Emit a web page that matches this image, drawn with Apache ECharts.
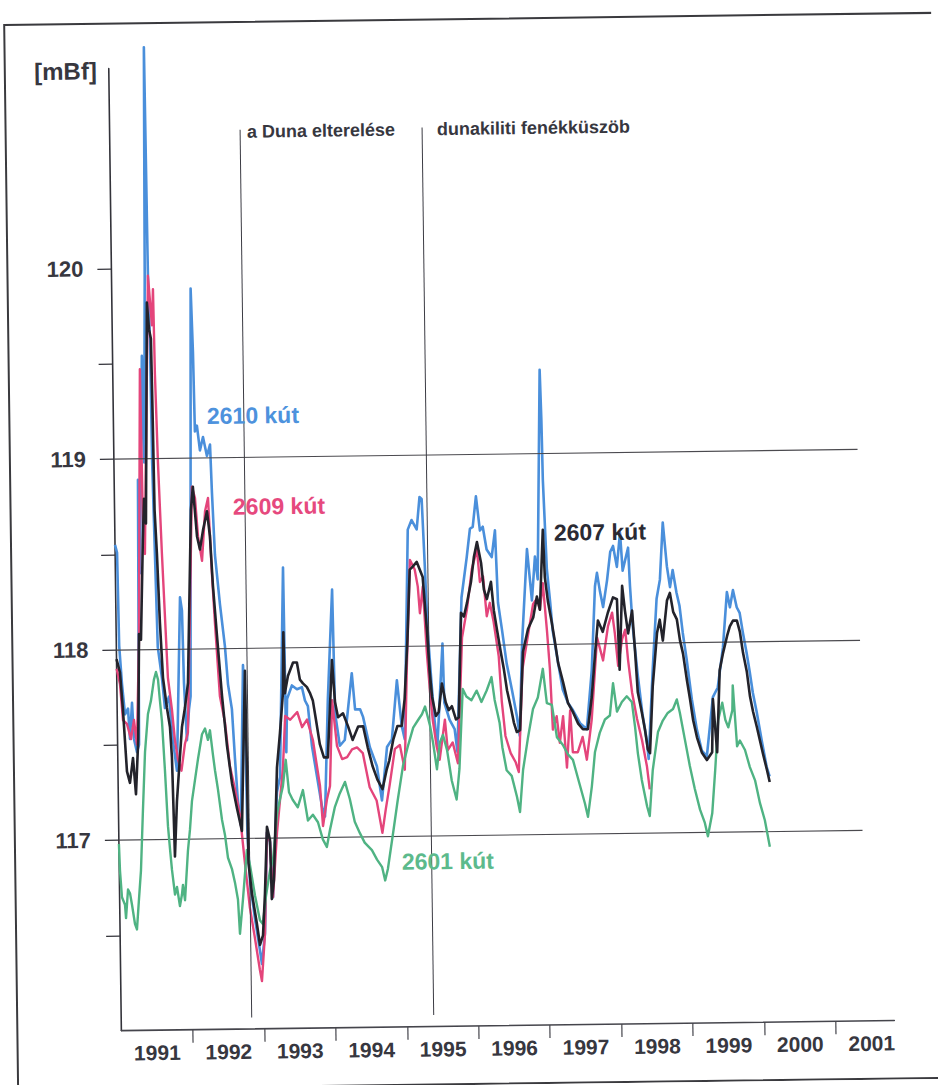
<!DOCTYPE html>
<html>
<head>
<meta charset="utf-8">
<title>Talajvízszintek 1991–2000</title>
<script src="https://cdn.jsdelivr.net/npm/echarts@6/dist/echarts.min.js"></script>
<style>
  html, body { margin: 0; padding: 0; background: #fff; overflow: hidden; }
  #chart {
    width: 938px; height: 1085px; background: #fff;
    transform: rotate(-0.75deg); transform-origin: 469px 542px;
  }
</style>
</head>
<body>
<div id="chart"></div>
<script>
// Axis tick labels
const yearLabels = ['1991', '1992', '1993', '1994', '1995', '1996', '1997', '1998', '1999', '2000', '2001'];
const valueLabels = ['117', '118', '119', '120'];
const gridLevels = [117, 118, 119];

// Event markers (decimal year)
const eventYears = [1992.83, 1995.376];
const eventTexts = ['a Duna elterelése', 'dunakiliti fenékküszöb'];

// Well water levels [decimal year, mBf]
const well2610 = [[1991.0,118.55],[1991.027,118.51],[1991.04,118.02],[1991.072,117.82],[1991.109,117.66],[1991.152,117.69],[1991.174,117.53],[1991.209,117.72],[1991.23,117.53],[1991.27,117.46],[1991.3,117.5],[1991.333,118.89],[1991.344,118.4],[1991.41,119.54],[1991.425,118.98],[1991.465,119.96],[1991.495,121.16],[1991.51,119.96],[1991.526,119.63],[1991.535,118.98],[1991.557,118.5],[1991.58,118.01],[1991.632,117.85],[1991.669,117.69],[1991.728,117.75],[1991.775,117.52],[1991.826,117.36],[1991.9,118.27],[1991.925,118.2],[1991.94,117.82],[1991.971,117.52],[1992.005,117.68],[1992.03,117.75],[1992.105,119.89],[1992.126,119.56],[1992.139,119.14],[1992.168,119.17],[1992.206,119.04],[1992.251,119.11],[1992.303,119.01],[1992.348,119.07],[1992.366,118.82],[1992.397,118.49],[1992.458,118.23],[1992.52,118.01],[1992.556,117.81],[1992.606,117.68],[1992.64,117.42],[1992.674,117.19],[1992.71,117.07],[1992.769,117.91],[1992.788,117.68],[1992.8,117.04],[1992.828,116.77],[1992.89,116.58],[1992.955,116.41],[1992.98,116.34],[1993.028,116.5],[1993.074,117.03],[1993.115,116.98],[1993.147,116.69],[1993.221,117.24],[1993.267,117.32],[1993.347,118.42],[1993.36,117.45],[1993.38,117.73],[1993.45,117.8],[1993.52,117.78],[1993.59,117.79],[1993.63,117.72],[1993.67,117.69],[1993.72,117.48],[1993.785,117.32],[1993.85,117.16],[1993.89,117.11],[1993.95,117.72],[1994.03,118.3],[1994.05,117.65],[1994.11,117.48],[1994.18,117.51],[1994.29,117.86],[1994.33,117.67],[1994.4,117.67],[1994.44,117.63],[1994.53,117.47],[1994.625,117.37],[1994.69,117.19],[1994.77,117.47],[1994.84,117.51],[1994.92,117.82],[1994.98,117.58],[1995.02,117.51],[1995.1,118.61],[1995.155,118.66],[1995.225,118.61],[1995.27,118.78],[1995.3,118.77],[1995.33,118.44],[1995.36,118.08],[1995.405,117.8],[1995.44,117.61],[1995.475,117.47],[1995.565,118.01],[1995.58,117.7],[1995.65,117.61],[1995.72,117.56],[1995.755,117.44],[1995.84,118.25],[1995.92,118.46],[1995.97,118.61],[1996.01,118.62],[1996.06,118.78],[1996.11,118.6],[1996.15,118.62],[1996.2,118.5],[1996.27,118.46],[1996.32,118.6],[1996.35,118.22],[1996.4,118.08],[1996.46,117.9],[1996.53,117.76],[1996.595,117.62],[1996.63,117.52],[1996.68,118.01],[1996.765,118.5],[1996.825,118.23],[1996.875,118.46],[1996.91,118.34],[1996.975,119.44],[1996.99,119.18],[1997.0,118.86],[1997.04,118.39],[1997.08,118.22],[1997.11,118.07],[1997.18,117.9],[1997.24,117.76],[1997.31,117.69],[1997.38,117.65],[1997.48,117.58],[1997.57,117.55],[1997.65,117.86],[1997.71,118.3],[1997.74,118.37],[1997.78,118.27],[1997.82,118.19],[1997.88,118.33],[1997.93,118.48],[1997.97,118.51],[1998.02,118.4],[1998.07,118.58],[1998.1,118.38],[1998.18,118.5],[1998.2,118.3],[1998.23,118.09],[1998.29,117.84],[1998.35,117.63],[1998.41,117.48],[1998.43,117.39],[1998.505,117.87],[1998.57,118.23],[1998.62,118.33],[1998.67,118.63],[1998.72,118.4],[1998.76,118.29],[1998.8,118.38],[1998.85,118.26],[1998.89,118.19],[1998.93,118.05],[1998.98,117.91],[1999.045,117.7],[1999.11,117.54],[1999.175,117.43],[1999.245,117.4],[1999.34,117.71],[1999.41,117.76],[1999.49,117.97],[1999.555,118.26],[1999.595,118.18],[1999.64,118.27],[1999.69,118.18],[1999.73,118.15],[1999.77,118.05],[1999.82,117.94],[1999.86,117.84],[1999.9,117.73],[1999.95,117.63],[2000.015,117.48],[2000.08,117.34],[2000.12,117.29]];

const well2609 = [[1991.0,117.9],[1991.044,117.82],[1991.08,117.63],[1991.134,117.61],[1991.188,117.53],[1991.233,117.63],[1991.271,117.5],[1991.318,118.05],[1991.38,119.47],[1991.395,118.66],[1991.417,118.5],[1991.51,119.96],[1991.557,119.7],[1991.578,119.89],[1991.59,119.44],[1991.616,118.98],[1991.655,118.5],[1991.686,118.17],[1991.716,117.85],[1991.767,117.68],[1991.803,117.52],[1991.842,117.42],[1991.889,117.36],[1991.942,117.5],[1991.986,117.56],[1992.087,118.85],[1992.128,118.79],[1992.163,118.59],[1992.215,118.46],[1992.266,118.72],[1992.31,118.79],[1992.35,118.4],[1992.385,118.13],[1992.44,117.75],[1992.507,117.61],[1992.568,117.38],[1992.634,117.26],[1992.7,117.12],[1992.76,116.87],[1992.82,116.64],[1992.885,116.48],[1992.95,116.31],[1992.977,116.25],[1993.028,116.5],[1993.074,117.03],[1993.115,116.98],[1993.147,116.69],[1993.215,117.03],[1993.263,117.2],[1993.31,117.37],[1993.35,117.64],[1993.42,117.62],[1993.52,117.66],[1993.585,117.58],[1993.655,117.62],[1993.735,117.51],[1993.825,117.27],[1993.86,117.06],[1993.92,117.2],[1993.965,117.27],[1994.01,117.72],[1994.07,117.48],[1994.14,117.41],[1994.21,117.42],[1994.28,117.46],[1994.35,117.47],[1994.43,117.44],[1994.52,117.26],[1994.615,117.19],[1994.69,117.02],[1994.74,117.14],[1994.8,117.27],[1994.88,117.46],[1994.95,117.48],[1995.015,117.35],[1995.06,117.87],[1995.125,118.45],[1995.19,118.4],[1995.23,118.31],[1995.255,118.17],[1995.3,118.31],[1995.345,117.96],[1995.38,117.77],[1995.415,117.61],[1995.465,117.47],[1995.505,117.4],[1995.585,117.61],[1995.62,117.45],[1995.69,117.49],[1995.76,117.38],[1995.84,118.04],[1995.915,118.19],[1995.99,118.4],[1996.065,118.5],[1996.1,118.33],[1996.145,118.36],[1996.19,118.15],[1996.235,118.22],[1996.285,118.12],[1996.35,117.94],[1996.385,117.7],[1996.43,117.52],[1996.5,117.43],[1996.57,117.38],[1996.61,117.33],[1996.68,117.87],[1996.76,118.04],[1996.84,118.21],[1996.895,118.24],[1996.935,118.18],[1996.98,118.32],[1997.03,118.07],[1997.064,117.87],[1997.095,117.55],[1997.15,117.62],[1997.19,117.48],[1997.24,117.62],[1997.285,117.35],[1997.34,117.65],[1997.37,117.43],[1997.44,117.43],[1997.51,117.51],[1997.565,117.39],[1997.64,117.6],[1997.73,118.03],[1997.81,117.91],[1997.885,118.09],[1997.945,118.16],[1997.98,118.05],[1998.02,117.88],[1998.08,118.02],[1998.125,118.07],[1998.16,117.91],[1998.21,117.74],[1998.275,117.6],[1998.34,117.49],[1998.405,117.35],[1998.44,117.23]];

const well2607 = [[1991.0,117.95],[1991.046,117.88],[1991.08,117.69],[1991.126,117.36],[1991.166,117.3],[1991.213,117.43],[1991.248,117.24],[1991.29,117.53],[1991.32,118.08],[1991.346,118.05],[1991.39,118.57],[1991.414,118.79],[1991.437,118.66],[1991.49,119.82],[1991.515,119.68],[1991.54,119.63],[1991.55,119.24],[1991.56,118.73],[1991.585,118.5],[1991.614,118.14],[1991.647,117.85],[1991.697,117.69],[1991.736,117.59],[1991.758,117.43],[1991.782,116.91],[1991.82,117.2],[1991.854,117.36],[1991.904,117.59],[1991.949,117.69],[1991.996,117.82],[1992.069,118.73],[1992.1,118.85],[1992.149,118.59],[1992.188,118.52],[1992.234,118.62],[1992.293,118.72],[1992.33,118.59],[1992.363,118.33],[1992.41,118.07],[1992.47,117.75],[1992.53,117.49],[1992.594,117.29],[1992.658,117.16],[1992.724,117.04],[1992.795,117.88],[1992.805,117.36],[1992.81,116.87],[1992.853,116.71],[1992.917,116.55],[1992.956,116.44],[1993.0,116.49],[1993.035,116.71],[1993.075,117.06],[1993.115,116.99],[1993.13,116.68],[1993.163,116.78],[1993.226,117.37],[1993.274,117.55],[1993.323,117.76],[1993.34,118.08],[1993.35,117.76],[1993.396,117.85],[1993.47,117.92],[1993.524,117.92],[1993.563,117.83],[1993.605,117.81],[1993.66,117.79],[1993.7,117.76],[1993.74,117.72],[1993.78,117.62],[1993.83,117.49],[1993.885,117.42],[1993.94,117.42],[1994.015,117.93],[1994.05,117.71],[1994.09,117.63],[1994.16,117.65],[1994.23,117.58],[1994.29,117.51],[1994.37,117.58],[1994.44,117.58],[1994.5,117.47],[1994.565,117.37],[1994.63,117.3],[1994.7,117.25],[1994.76,117.35],[1994.8,117.4],[1994.86,117.51],[1994.92,117.58],[1994.98,117.58],[1995.025,117.72],[1995.075,118.03],[1995.12,118.4],[1995.15,118.41],[1995.22,118.44],[1995.26,118.4],[1995.3,118.36],[1995.35,118.08],[1995.38,117.87],[1995.41,117.73],[1995.46,117.63],[1995.5,117.65],[1995.55,117.8],[1995.6,117.7],[1995.64,117.66],[1995.685,117.68],[1995.74,117.61],[1995.78,117.62],[1995.83,118.17],[1995.87,118.15],[1995.915,118.22],[1995.975,118.33],[1996.02,118.46],[1996.066,118.54],[1996.12,118.43],[1996.155,118.29],[1996.195,118.24],[1996.255,118.33],[1996.29,118.18],[1996.33,118.08],[1996.38,117.96],[1996.42,117.87],[1996.46,117.76],[1996.51,117.67],[1996.55,117.59],[1996.59,117.54],[1996.635,117.55],[1996.69,117.96],[1996.765,118.08],[1996.84,118.14],[1996.895,118.25],[1996.935,118.18],[1996.99,118.6],[1997.01,118.35],[1997.05,118.22],[1997.1,118.11],[1997.14,118.01],[1997.18,117.9],[1997.245,117.8],[1997.31,117.69],[1997.38,117.64],[1997.45,117.58],[1997.515,117.55],[1997.585,117.55],[1997.645,117.72],[1997.7,117.95],[1997.745,118.12],[1997.81,118.06],[1997.885,118.16],[1997.96,118.24],[1998.015,118.23],[1998.04,117.86],[1998.09,118.3],[1998.125,118.17],[1998.165,118.05],[1998.225,118.17],[1998.26,117.95],[1998.29,117.74],[1998.345,117.63],[1998.385,117.54],[1998.42,117.44],[1998.45,117.42],[1998.5,117.77],[1998.57,118.05],[1998.61,118.12],[1998.65,118.01],[1998.715,118.22],[1998.757,118.26],[1998.8,118.16],[1998.85,118.12],[1998.89,118.01],[1998.93,117.94],[1998.98,117.8],[1999.02,117.7],[1999.06,117.59],[1999.11,117.5],[1999.175,117.42],[1999.245,117.38],[1999.32,117.42],[1999.34,117.7],[1999.39,117.42],[1999.44,117.85],[1999.49,117.94],[1999.55,118.03],[1999.59,118.08],[1999.635,118.11],[1999.69,118.11],[1999.73,118.05],[1999.77,117.94],[1999.82,117.84],[1999.86,117.71],[1999.9,117.63],[1999.95,117.55],[1999.99,117.48],[2000.03,117.41],[2000.08,117.33],[2000.12,117.26]];

const well2601 = [[1991.0,116.98],[1991.01,116.84],[1991.033,116.7],[1991.074,116.66],[1991.086,116.59],[1991.119,116.74],[1991.146,116.72],[1991.172,116.66],[1991.21,116.56],[1991.237,116.53],[1991.271,116.69],[1991.304,116.84],[1991.343,117.16],[1991.382,117.46],[1991.43,117.66],[1991.475,117.73],[1991.52,117.84],[1991.55,117.88],[1991.577,117.84],[1991.6,117.73],[1991.625,117.62],[1991.658,117.36],[1991.69,117.07],[1991.714,116.95],[1991.738,116.84],[1991.776,116.71],[1991.805,116.75],[1991.843,116.65],[1991.873,116.71],[1991.889,116.76],[1991.915,116.68],[1991.965,116.94],[1991.997,117.05],[1992.03,117.2],[1992.076,117.31],[1992.122,117.42],[1992.183,117.55],[1992.226,117.58],[1992.265,117.52],[1992.295,117.57],[1992.333,117.44],[1992.358,117.36],[1992.396,117.26],[1992.447,117.1],[1992.486,117.02],[1992.524,116.9],[1992.578,116.84],[1992.617,116.77],[1992.656,116.68],[1992.678,116.5],[1992.726,116.68],[1992.79,116.94],[1992.83,116.86],[1992.895,116.7],[1992.96,116.57],[1993.0,116.55],[1993.05,116.7],[1993.11,116.83],[1993.155,116.89],[1993.22,117.13],[1993.26,117.2],[1993.305,117.27],[1993.35,117.41],[1993.39,117.24],[1993.44,117.2],[1993.51,117.16],[1993.585,117.25],[1993.65,117.09],[1993.72,117.12],[1993.79,117.08],[1993.855,116.99],[1993.91,116.95],[1993.957,117.04],[1994.03,117.16],[1994.1,117.23],[1994.175,117.29],[1994.24,117.2],[1994.305,117.08],[1994.375,117.02],[1994.44,116.97],[1994.54,116.93],[1994.61,116.88],[1994.68,116.84],[1994.72,116.77],[1994.76,116.83],[1994.84,117.02],[1994.91,117.19],[1994.99,117.37],[1995.06,117.47],[1995.14,117.57],[1995.21,117.61],[1995.265,117.64],[1995.31,117.68],[1995.375,117.58],[1995.415,117.49],[1995.465,117.35],[1995.51,117.49],[1995.555,117.53],[1995.61,117.45],[1995.67,117.29],[1995.735,117.19],[1995.78,117.35],[1995.84,117.77],[1995.89,117.73],[1995.96,117.71],[1996.035,117.76],[1996.1,117.7],[1996.175,117.76],[1996.245,117.83],[1996.285,117.71],[1996.35,117.59],[1996.385,117.46],[1996.44,117.34],[1996.51,117.31],[1996.58,117.2],[1996.62,117.12],[1996.67,117.34],[1996.745,117.51],[1996.82,117.66],[1996.89,117.72],[1996.965,117.87],[1997.015,117.69],[1997.085,117.68],[1997.15,117.51],[1997.23,117.47],[1997.3,117.42],[1997.37,117.39],[1997.46,117.26],[1997.53,117.16],[1997.57,117.09],[1997.63,117.25],[1997.68,117.43],[1997.75,117.53],[1997.825,117.6],[1997.895,117.62],[1997.945,117.79],[1997.995,117.64],[1998.065,117.69],[1998.135,117.72],[1998.205,117.69],[1998.245,117.56],[1998.28,117.42],[1998.33,117.28],[1998.4,117.14],[1998.435,117.09],[1998.485,117.33],[1998.565,117.53],[1998.635,117.59],[1998.705,117.63],[1998.78,117.65],[1998.835,117.7],[1998.875,117.63],[1998.94,117.49],[1999.005,117.35],[1999.07,117.23],[1999.14,117.12],[1999.205,117.05],[1999.245,116.98],[1999.31,117.1],[1999.36,117.33],[1999.41,117.59],[1999.47,117.68],[1999.51,117.59],[1999.55,117.55],[1999.61,117.64],[1999.62,117.77],[1999.67,117.45],[1999.71,117.48],[1999.78,117.43],[1999.845,117.34],[1999.915,117.27],[1999.98,117.15],[2000.045,117.06],[2000.11,116.92]];

// ---- drawing ----
const FONT = '"Liberation Sans", Arial, Helvetica, sans-serif';
const INK = '#37373f';

const wells = [
  { name: '2610 kút', data: well2610, line: '#4a8fdb', text: '#4d92dd', width: 2.6, labelAt: [1992.31, 119.22], z: 3 },
  { name: '2609 kút', data: well2609, line: '#e4457b', text: '#e6497e', width: 2.4, labelAt: [1992.658, 118.742], z: 4 },
  { name: '2601 kút', data: well2601, line: '#4fb383', text: '#5cba8c', width: 2.4, labelAt: [1994.957, 116.867], z: 5 },
  { name: '2607 kút', data: well2607, line: '#23232b', text: '#2a2a33', width: 2.6, labelAt: [1997.145, 118.584], z: 6 }
];

const chart = echarts.init(document.getElementById('chart'), null, { renderer: 'svg' });

const firstYear = Number(yearLabels[0]);
const markerTop = 120.72, markerBottom = 116.06, gridLineEnd = 2001.41;

const option = {
  animation: false,
  backgroundColor: '#fff',
  grid: { left: 115, top: 64, width: 773, height: 962, containLabel: false },
  xAxis: {
    type: 'value', min: firstYear, max: 2001.82,
    axisLine: { show: true, onZero: false, lineStyle: { color: '#45454c', width: 1.6 } },
    axisTick: {
      show: true, inside: false, length: 13,
      customValues: yearLabels.slice(1).map(Number),
      lineStyle: { color: '#45454c', width: 1.2 }
    },
    axisLabel: {
      show: true, margin: 12,
      customValues: yearLabels.map(y => Number(y) + 0.5),
      formatter: v => yearLabels[Math.floor(v) - firstYear],
      color: INK, fontFamily: FONT, fontSize: 21, fontWeight: 'bold'
    },
    splitLine: { show: false }
  },
  yAxis: {
    type: 'value', min: 116, max: 121.05,
    name: '[mBf]', nameLocation: 'end', nameGap: -2,
    nameTextStyle: { color: INK, fontFamily: FONT, fontSize: 24, fontWeight: 'bold',
                     align: 'right', verticalAlign: 'middle', padding: [0, 12, 0, 0] },
    axisLine: { show: true, onZero: false, lineStyle: { color: '#33333a', width: 1.6 } },
    axisTick: {
      show: true, inside: false, length: 14,
      customValues: [116.5, 117, 117.5, 118, 118.5, 119, 119.5, 120],
      lineStyle: { color: '#33333a', width: 1.2 }
    },
    axisLabel: {
      show: true, margin: 28,
      customValues: valueLabels.map(Number),
      formatter: v => String(v),
      color: INK, fontFamily: FONT, fontSize: 22, fontWeight: 'bold'
    },
    splitLine: { show: false }
  },
  series: [
    {
      // horizontal level lines and the two event markers
      type: 'line', name: 'guides', z: 1, silent: true,
      data: [[firstYear, gridLevels[0]]], showSymbol: false,
      lineStyle: { opacity: 0 },
      markLine: {
        silent: true, symbol: ['none', 'none'], animation: false,
        label: { show: false },
        emphasis: { disabled: true },
        data: [
          ...gridLevels.map(v => [
            { coord: [firstYear, v], lineStyle: { color: '#4b4a4f', width: 1.1, type: 'solid' } },
            { coord: [gridLineEnd, v] }
          ]),
          ...eventYears.map(t => [
            { coord: [t, markerBottom], lineStyle: { color: '#3c3c44', width: 1, type: 'solid' } },
            { coord: [t, markerTop] }
          ])
        ]
      }
    },
    ...wells.map(w => ({
      type: 'line', name: w.name, data: w.data, z: w.z,
      showSymbol: false, symbol: 'none', clip: false, silent: true,
      lineStyle: { color: w.line, width: w.width, join: 'round' },
      itemStyle: { color: w.line },
      emphasis: { disabled: true }
    }))
  ]
};

chart.setOption(option);

// Text annotations anchored in data coordinates
const graphics = [{
  type: 'rect', silent: true, z: -10,
  shape: { x: 11, y: 19, width: 929, height: 1065 },
  style: { fill: 'none', stroke: '#3a3a3e', lineWidth: 2 }
}];

wells.forEach(w => {
  const p = chart.convertToPixel({ gridIndex: 0 }, w.labelAt);
  graphics.push({
    type: 'text', x: p[0], y: p[1], silent: true, z: 20,
    style: {
      text: w.name, fill: w.text,
      font: 'bold 23px ' + FONT,
      align: 'left', verticalAlign: 'middle',
      textAlign: 'left', textVerticalAlign: 'middle'
    }
  });
});

const eventTextOffsets = [6.5, 14.7];
eventYears.forEach((t, i) => {
  const p = chart.convertToPixel({ gridIndex: 0 }, [t, 120.71]);
  graphics.push({
    type: 'text', x: p[0] + eventTextOffsets[i], y: p[1], silent: true, z: 20,
    style: {
      text: eventTexts[i], fill: INK,
      font: 'bold 18px ' + FONT,
      align: 'left', verticalAlign: 'middle',
      textAlign: 'left', textVerticalAlign: 'middle'
    }
  });
});

chart.setOption({ graphic: graphics });
</script>
</body>
</html>
